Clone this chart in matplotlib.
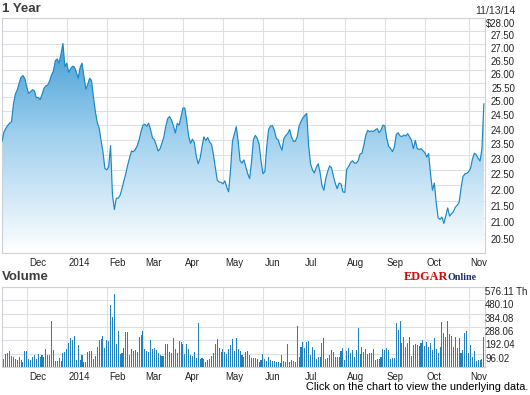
import matplotlib
matplotlib.use("Agg")
import matplotlib.pyplot as plt
from matplotlib.colors import LinearSegmentedColormap
from matplotlib.ticker import NullLocator
import numpy as np
import pandas as pd

fname = "out.png"

# trading days, 11/12/13 - 11/13/14 (NYSE holidays removed)
holidays = ["2013-11-28", "2013-12-25", "2014-01-01", "2014-01-20", "2014-02-17",
            "2014-04-18", "2014-05-26", "2014-07-04", "2014-09-01"]
dates = pd.bdate_range("2013-11-12", "2014-11-13", freq="C", holidays=holidays)

# closing price, $
prices = [
    23.44, 23.76, 23.89, 23.99, 24.07, 24.12, 24.73, 25.10, 25.25, 25.50,
    25.72, 25.78, 25.67, 25.35, 25.12, 25.19, 25.26, 25.22, 24.97, 24.98,
    24.90, 25.08, 25.31, 25.40, 25.43, 25.58, 25.80, 25.95, 26.34, 26.40,
    26.25, 26.60, 27.00, 26.12, 26.25, 25.90, 26.03, 26.13, 26.10, 25.92,
    25.68, 26.08, 26.25, 25.75, 25.28, 25.45, 25.68, 25.60, 25.00, 24.48,
    24.10, 23.90, 23.48, 23.10, 22.55, 22.50, 22.60, 23.30, 21.70, 21.25,
    21.60, 21.60, 21.69, 21.90, 22.15, 22.38, 22.66, 22.90, 23.12, 23.10,
    23.17, 23.30, 23.50, 23.78, 24.00, 24.03, 23.96, 24.07, 23.85, 23.57,
    23.50, 23.32, 23.12, 23.20, 23.39, 23.60, 23.97, 24.23, 24.30, 24.18,
    23.98, 23.73, 24.06, 24.00, 24.30, 24.60, 24.60, 24.15, 23.62, 23.38,
    23.52, 23.40, 22.95, 22.70, 22.88, 23.25, 23.60, 23.47, 23.58, 23.42,
    23.35, 23.00, 22.57, 22.17, 22.11, 22.10, 22.05, 22.15, 21.95, 21.80,
    22.50, 23.45, 23.70, 23.95, 23.45, 22.80, 22.72, 22.83, 22.60, 22.38,
    22.22, 22.75, 23.50, 23.65, 23.55, 23.35, 22.80, 22.38, 22.44, 23.27,
    23.86, 23.97, 23.98, 23.83, 23.55, 23.50, 23.30, 23.15, 23.54, 23.65,
    23.71, 23.85, 23.60, 23.45, 23.45, 23.60, 23.97, 24.13, 24.26, 24.34,
    24.41, 23.30, 22.70, 22.50, 22.40, 22.58, 22.70, 22.42, 22.00, 21.85,
    22.23, 22.45, 22.63, 22.57, 22.30, 22.06, 21.90, 22.08, 22.05, 21.80,
    21.78, 22.52, 22.61, 22.74, 22.80, 22.72, 22.72, 22.80, 23.02, 23.05,
    23.32, 23.65, 23.82, 23.78, 23.80, 23.78, 23.84, 23.88, 23.74, 23.83,
    24.00, 23.98, 23.55, 23.28, 23.21, 23.10, 23.25, 23.68, 23.74, 23.63,
    23.61, 23.66, 23.63, 23.71, 23.60, 23.48, 23.20, 23.48, 23.21, 23.17,
    23.20, 23.13, 23.07, 22.92, 23.04, 22.37, 21.85, 22.08, 21.45, 21.00,
    20.95, 21.02, 20.83, 21.05, 21.30, 21.05, 21.12, 21.18, 21.32, 21.38,
    21.47, 21.90, 22.28, 22.37, 22.39, 22.44, 22.55, 22.85, 23.05, 23.00,
    22.88, 22.79, 23.20, 24.75,
]

# volume, thousands of shares
volume = [
    76, 57, 93, 100, 119, 81, 76, 60, 52, 76,
    52, 40, 119, 119, 57, 52, 76, 88, 57, 95,
    71, 88, 76, 128, 88, 85, 331, 124, 48, 48,
    64, 48, 105, 110, 133, 171, 212, 195, 224, 52,
    160, 52, 88, 40, 40, 107, 117, 117, 57, 83,
    143, 195, 200, 224, 140, 195, 190, 445, 357, 524,
    170, 259, 95, 105, 140, 250, 252, 90, 130, 120,
    125, 110, 219, 230, 259, 128, 120, 110, 195, 130,
    135, 125, 100, 85, 80, 80, 165, 170, 110, 100,
    207, 130, 100, 190, 180, 165, 95, 170, 130, 90,
    80, 110, 65, 319, 60, 70, 60, 40, 50, 60,
    80, 100, 165, 200, 135, 110, 130, 110, 95, 130,
    160, 200, 120, 210, 130, 120, 90, 75, 110, 120,
    90, 70, 70, 65, 60, 40, 50, 95, 57, 48,
    71, 52, 48, 45, 40, 40, 33, 88, 45, 40,
    167, 40, 52, 48, 40, 295, 71, 143, 183, 135,
    183, 190, 88, 143, 124, 60, 71, 71, 171, 207,
    57, 64, 86, 124, 110, 76, 76, 76, 117, 136,
    52, 119, 136, 100, 124, 76, 124, 278, 95, 148,
    112, 128, 93, 100, 105, 128, 52, 60, 62, 76,
    128, 124, 136, 124, 60, 64, 66, 314, 267, 333,
    176, 214, 143, 176, 214, 81, 160, 167, 160, 152,
    176, 195, 152, 183, 143, 171, 124, 207, 128, 100,
    143, 326, 243, 214, 331, 238, 224, 143, 214, 136,
    207, 100, 124, 248, 262, 100, 160, 76, 119, 48,
    52, 55, 60, 214,
]

price_ticks = [28.0, 27.5, 27.0, 26.5, 26.0, 25.5, 25.0, 24.5, 24.0,
               23.5, 23.0, 22.5, 22.0, 21.5, 21.0, 20.5]
vol_ticks = [576.11, 480.10, 384.08, 288.06, 192.04, 96.02]
vol_labels = ["576.11 Th", "480.10", "384.08", "288.06", "192.04", "96.02"]

n = min(len(dates), len(prices), len(volume))
x = np.arange(n)
p = np.array(prices[:n])
v = np.array(volume[:n])

# first trading day of every month after the start
months = pd.Series(dates[:n].to_period("M"))
month_idx = [i for i in range(1, n) if months[i] != months[i - 1]]
month_lab = [("2014" if dates[i].month == 1 else dates[i].strftime("%b")) for i in month_idx]

W, H = 530, 395
grid_c = "#dde0e5"
edge_c = "#cdd1d6"
tick_font = dict(family="Liberation Sans", fontsize=6.9, color="#222222")

fig = plt.figure(figsize=(W / 100, H / 100), dpi=100)

def px_axes(l, t, r, b):
    return fig.add_axes([l / W, 1 - b / H, (r - l) / W, (b - t) / H])

ax = px_axes(2, 18.3, 485, 253.3)
ax2 = px_axes(2, 286.7, 485, 367.3)

xmax = n - 1 + 0.6
for a in (ax, ax2):
    a.set_xlim(0, xmax)
    a.set_xticks(month_idx)
    a.set_xticklabels([])
    a.tick_params(length=0)
    a.grid(True, color=grid_c, lw=0.8)
    a.set_axisbelow(True)
    for s in a.spines.values():
        s.set_color(edge_c)
        s.set_linewidth(0.8)
    for i, lab in zip(month_idx, month_lab):
        a.annotate(lab, xy=(i, 0), xycoords=("data", "axes fraction"),
                   xytext=(2, -9.5), textcoords="offset pixels",
                   ha="left", va="center", **tick_font)

# price panel, log scale
ax.set_yscale("log")
ax.set_ylim(19.95, 28.0)
ax.yaxis.set_minor_locator(NullLocator())
ax.set_yticks(price_ticks)
ax.set_yticklabels([])

fill = ax.fill_between(x, p, 19.0, color="none", lw=0, zorder=2)
cmap = LinearSegmentedColormap.from_list("blu", ["#ffffff", "#9fd0ee", "#2f92cf"])
grad = np.linspace(1, 0, 256).reshape(-1, 1)
im = ax.imshow(grad, extent=[0, 1, 0, 1], transform=ax.transAxes, aspect="auto",
               cmap=cmap, zorder=2)
im.set_clip_path(fill.get_paths()[0], transform=ax.transData)
ax.plot(x, p, color="#1a88c6", lw=0.85, zorder=3)
ax.set_xlim(0, xmax)
ax.set_ylim(19.95, 28.0)

for t in price_ticks:
    lab = "$%.2f" % t if t == 28.0 else "%.2f" % t
    ax.annotate(lab, xy=(1, t), xycoords=("axes fraction", "data"),
                xytext=(30, -5.5), textcoords="offset pixels",
                ha="right", va="center", **tick_font)

# volume panel
ax2.bar(x, v, width=0.55, color="#2380be", lw=0, antialiased=False, zorder=2)
ax2.set_ylim(0, 576.11)
ax2.set_yticks(vol_ticks)
ax2.set_yticklabels([])
for t, lab in zip(vol_ticks, vol_labels):
    ax2.annotate(lab, xy=(1, t), xycoords=("axes fraction", "data"),
                 xytext=(0, -5), textcoords="offset pixels",
                 ha="left", va="center", **tick_font)

# titles and captions
fig.text(2 / W, 1 - 9 / H, "1 Year", family="Liberation Sans", weight="bold",
         fontsize=9.5, color="#3d3d3d", ha="left", va="center")
fig.text(2 / W, 1 - 277.5 / H, "Volume", family="Liberation Sans", weight="bold",
         fontsize=9.5, color="#3d3d3d", ha="left", va="center")
fig.text(515 / W, 1 - 11.5 / H, "11/13/14", family="Liberation Sans",
         fontsize=7.6, color="#333333", ha="right", va="center")
fig.text(404 / W, 1 - 280 / H, "EDGAR", family="Liberation Serif", weight="bold",
         fontsize=8.8, color="#d10a0a", ha="left", va="baseline")
fig.text(448 / W, 1 - 280 / H, "Online", family="Liberation Serif", weight="bold",
         fontsize=7.2, color="#1b2f6e", ha="left", va="baseline")
fig.text(528 / W, 1 - 387.5 / H, "Click on the chart to view the underlying data.",
         family="Liberation Sans", fontsize=7.9, color="black", ha="right", va="center")

plt.savefig(fname, dpi=100)
